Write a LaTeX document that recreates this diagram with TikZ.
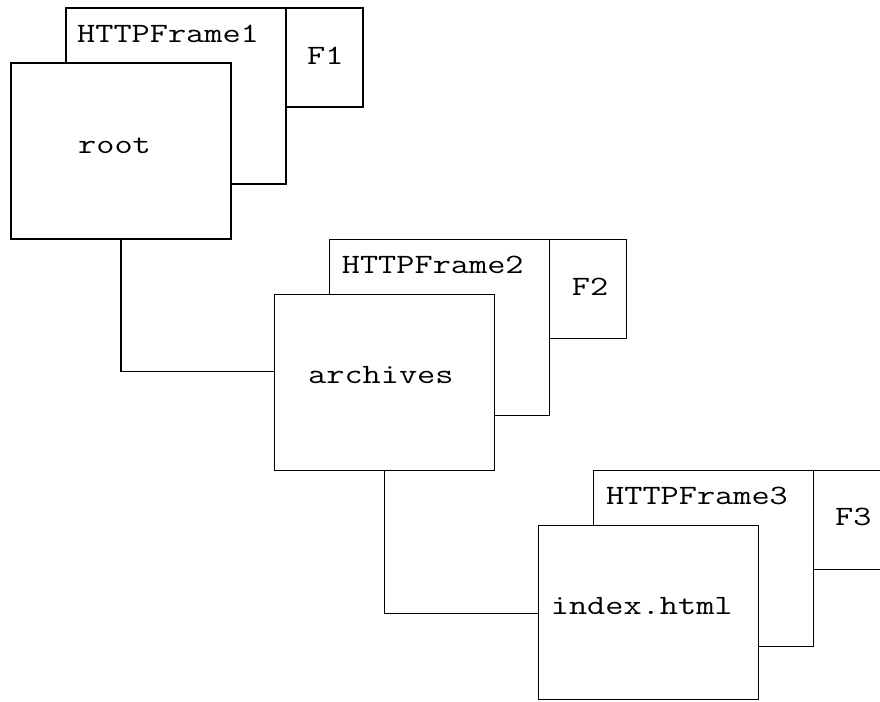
\documentclass[tikz,border=0pt]{standalone}
\usepackage{fontspec}
% widened typewriter lettering for the captions
\newcommand\widetype[1]{\scalebox{1.26}[1]{#1}}
\begin{document}
\begin{tikzpicture}[x=1pt,y=-1pt,
  box/.style={draw=black, line width=1.5pt, fill=white, rectangle,
              inner sep=0pt, outer sep=0pt, anchor=north west},
  pagebox/.style={box, minimum width=220pt, minimum height=176pt},
  framebox/.style={box, minimum width=220pt, minimum height=176pt},
  tagbox/.style={box, minimum width=77pt, minimum height=99pt},
  caption/.style={font=\ttfamily\fontsize{28}{30}\selectfont,
                  inner sep=0pt, anchor=base west},
  link/.style={draw=black, line width=1.5pt}]
\useasboundingbox (0,0) rectangle (880,701);
\begin{scope}
\clip (0,0) rectangle (880,701);

% first level: root
\node[framebox] (hf1) at (66,8) {};
\node[tagbox] (f1) at (286,8) {};
\node[pagebox] (root) at (11,63) {};

% second level: archives
\node[framebox] (hf2) at (329.3,239.3) {};
\node[tagbox] (f2) at (549.3,239.3) {};
\node[pagebox] (archives) at (274.3,294.3) {};

% third level: index.html
\node[framebox] (hf3) at (593.3,470.7) {};
\node[tagbox] (f3) at (813.3,470.7) {};
\node[pagebox, minimum height=174pt] (index) at (538.3,525.5) {};

% captions
\node[caption] (hf1-t) at (77,42) {\widetype{HTTPFrame1}};
\node[caption] (f1-t) at (307,64) {\widetype{F1}};
\node[caption] (root-t) at (78,153) {\widetype{root}};
\node[caption] (hf2-t) at (341.7,273.3) {\widetype{HTTPFrame2}};
\node[caption] (f2-t) at (571.7,295) {\widetype{F2}};
\node[caption] (archives-t) at (308,383) {\widetype{archives}};
\node[caption] (hf3-t) at (606,504) {\widetype{HTTPFrame3}};
\node[caption] (f3-t) at (835,525.7) {\widetype{F3}};
\node[caption] (index-t) at (550.7,614) {\widetype{index.html}};

% tree links
\coordinate (archives-in) at (274.3,371.7);
\coordinate (index-in) at (538.3,613.3);
\draw[link] (root.south) |- (archives-in);
\draw[link] (archives.south) |- (index-in);
\end{scope}
\end{tikzpicture}
\end{document}
